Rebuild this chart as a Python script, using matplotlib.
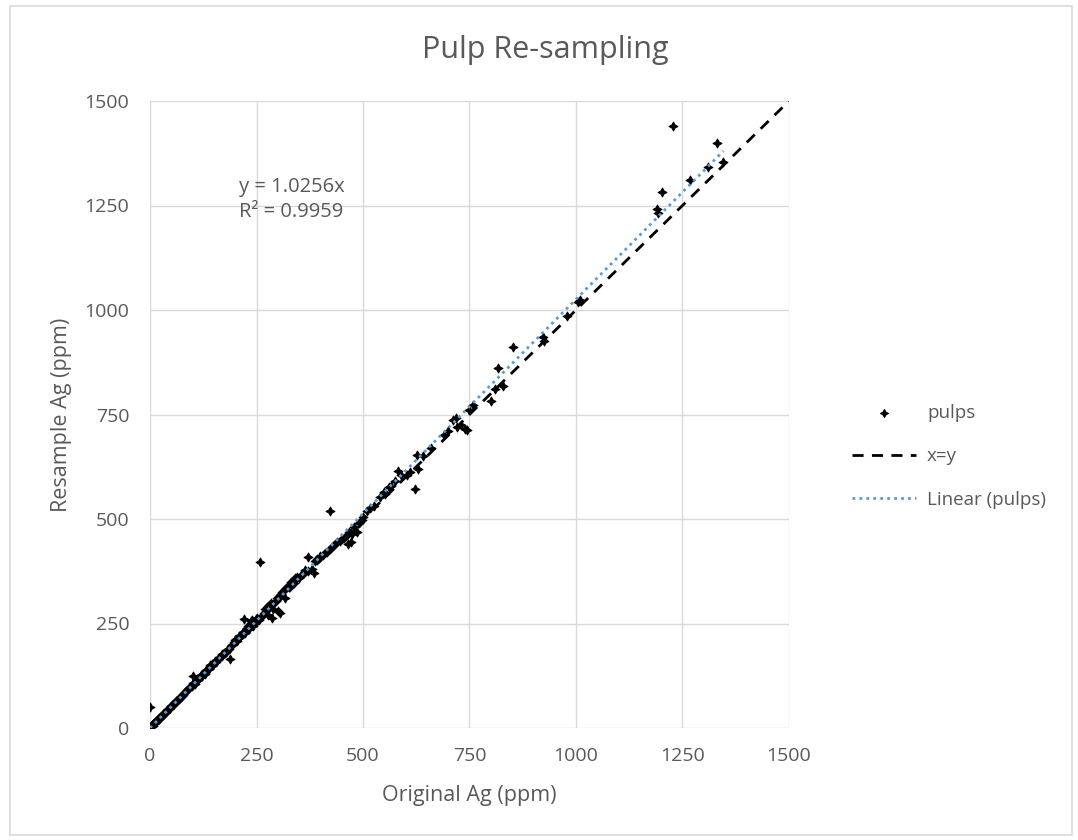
import matplotlib.pyplot as plt
from matplotlib.patches import Rectangle

plt.rcParams['font.family'] = ['Open Sans', 'DejaVu Sans']

# original vs resample values (ppm)
orig = [1, 2, 3, 4, 5, 6, 7, 8, 9, 10, 11, 12, 13, 14, 15, 16, 18, 19, 20, 22,
        23, 25, 26, 28, 30, 31, 33, 35, 37, 39, 40, 42, 44, 46, 48, 50, 52, 54, 56, 58,
        60, 62, 64, 66, 68, 70, 72, 75, 78, 80, 82, 85, 88, 90, 92, 95, 98, 100, 0,
        102, 105, 108, 100, 110, 112, 115, 118, 120, 122, 125, 128, 130, 132, 135, 138, 140, 142,
        145, 148, 150, 152, 155, 158, 160, 163, 165, 168, 170, 172, 175, 178, 180, 183,
        185, 188, 190, 192, 195, 198, 200,
        203, 205, 208, 210, 212, 215, 218, 220, 222, 225, 228, 230, 232, 235, 238, 240,
        242, 245, 248, 250, 252, 255, 258, 260, 265, 268, 270, 272, 275, 278, 280, 285,
        286, 288, 290, 295, 298, 300, 302, 305, 308, 310, 315, 318, 320, 325, 328, 330,
        335, 338, 340, 345, 350, 355, 365, 370, 372, 380, 385, 388, 392, 398, 400,
        405, 410, 415, 420, 423, 425, 430, 435, 440, 445, 450, 455, 460, 465, 468, 472,
        475, 480, 485, 490, 493, 498, 500,
        510, 516, 525, 540, 550, 552, 560, 565, 575, 583, 590, 603, 610, 622, 626, 629,
        640, 660, 690, 700, 712, 718, 720, 730, 740, 744, 750, 758, 800, 810, 829, 817,
        852, 922, 925, 979, 1005, 1010, 1189, 1192, 1201, 1228, 1268, 1310, 1332, 1346]
resample = [2, 5, 4, 6, 8, 5, 9, 10, 12, 11, 14, 13, 15, 17, 16, 19, 20, 22, 21, 25,
            24, 28, 27, 31, 30, 34, 35, 37, 39, 42, 40, 45, 46, 49, 50, 52, 55, 56, 59, 60,
            63, 64, 67, 68, 71, 72, 75, 77, 80, 83, 85, 88, 90, 93, 96, 97, 100, 104, 50,
            108, 106, 112, 124, 118, 115, 120, 122, 126, 124, 130, 128, 134, 138, 140, 142, 150, 145,
            152, 150, 155, 160, 158, 163, 165, 168, 170, 172, 176, 178, 180, 182, 185, 190,
            188, 165, 195, 198, 200, 205, 210,
            212, 208, 215, 220, 218, 225, 230, 260, 228, 235, 240, 245, 238, 250, 255, 258,
            245, 252, 260, 262, 255, 258, 397, 265, 270, 275, 285, 280, 290, 270, 295, 300,
            262, 285, 300, 305, 310, 280, 315, 275, 320, 325, 330, 310, 335, 340, 345, 350,
            355, 348, 360, 362, 358, 365, 378, 408, 375, 380, 372, 400, 405, 410, 412,
            415, 418, 420, 425, 520, 430, 435, 440, 445, 448, 452, 455, 460, 440, 470, 445,
            465, 480, 470, 490, 494, 498, 505,
            520, 527, 530, 553, 565, 560, 577, 580, 592, 615, 605, 606, 612, 572, 653, 620,
            650, 670, 700, 710, 737, 742, 720, 725, 715, 713, 760, 773, 782, 810, 818, 861,
            911, 935, 925, 985, 1018, 1025, 1242, 1233, 1283, 1440, 1312, 1341, 1400, 1353]

slope = 1.0256
r2 = 0.9959
ticks = [0, 250, 500, 750, 1000, 1250, 1500]

text_c = '#595959'
grid_c = '#D9D9D9'

fig = plt.figure(figsize=(10.78, 8.4), dpi=100)
fig.patches.append(Rectangle((10 / 1078, 5 / 840), 1062 / 1078, 829 / 840,
                             transform=fig.transFigure, fill=False,
                             edgecolor=grid_c, linewidth=1.2))

ax = fig.add_axes([150 / 1078, 1 - 728 / 840, 639 / 1078, 627 / 840])
ax.set_xlim(0, 1500)
ax.set_ylim(0, 1500)
ax.set_xticks(ticks)
ax.set_yticks(ticks)
ax.grid(True, color=grid_c, linewidth=1)
ax.set_axisbelow(True)
for s in ax.spines.values():
    s.set_visible(False)
ax.tick_params(length=0, labelsize=14, labelcolor=text_c)
ax.tick_params(axis='y', pad=15)
ax.tick_params(axis='x', pad=14)

ax.scatter(orig, resample, marker=(4, 1, 0), s=40, color='black',
           linewidths=0.8, label='pulps', zorder=3)
ax.plot([0, 1500], [0, 1500], color='black', linestyle=(0, (4, 3)),
        linewidth=2, label='x=y', zorder=4)
xf = [0, max(orig)]
ax.plot(xf, [slope * v for v in xf], color='#5B9BD5', linestyle=(0, (1, 1.5)),
        linewidth=2, label='Linear (pulps)', zorder=5)

ax.text(209, 1264, 'y = %.4fx\nR² = %.4f' % (slope, r2), fontsize=14.5,
        color=text_c, ha='left', va='center', linespacing=1.3)

ax.set_xlabel('Original Ag (ppm)', fontsize=15.5, color=text_c, labelpad=14)
ax.set_ylabel('Resample Ag (ppm)', fontsize=15.5, color=text_c, labelpad=9)
fig.text(545 / 1078, 1 - 50 / 840, 'Pulp Re-sampling',
         fontsize=22, color=text_c, ha='center', va='center')

fig.legend(loc='upper left', bbox_to_anchor=(852 / 1078, 1 - 404 / 840),
           frameon=False, fontsize=13.5, labelcolor=text_c, handlelength=3.4,
           handletextpad=0.6, labelspacing=1.35, borderpad=0, borderaxespad=0,
           markerscale=0.9)

fig.savefig('out.png', dpi=100)
